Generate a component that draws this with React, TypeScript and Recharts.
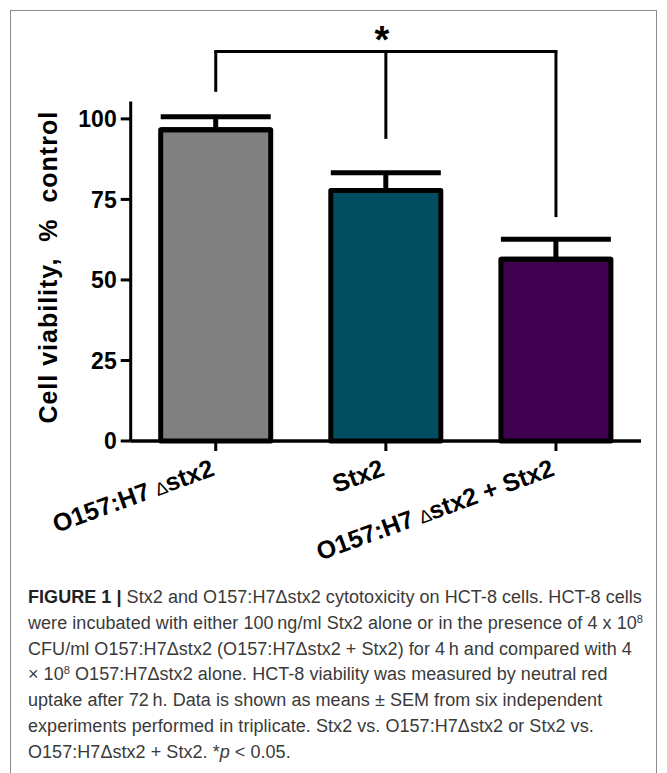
import React from 'react';
import {
  Bar,
  BarChart,
  Cell,
  ErrorBar,
  Label,
  ReferenceDot,
  ReferenceLine,
  XAxis,
  YAxis,
} from 'recharts';

const GROUPS = ['O157:H7 ∆stx2', 'Stx2', 'O157:H7 ∆stx2 + Stx2'];
const VIABILITY = [96.6, 77.8, 56.4];
const SEM = [4.1, 5.5, 6.2];
const BAR_COLORS = ['#808080', '#004e60', '#3e004f'];
const Y_TICKS = [0, 25, 50, 75, 100];
// significance bracket (in % control units)
const BRACKET_TOP = 120.9;
const BRACKET_ENDS = [108.4, 93.8, 69.5];

const DATA = GROUPS.map((group, i) => ({
  group,
  viability: VIABILITY[i],
  sem: [0, SEM[i]],
}));

const FONT = '"Liberation Sans", Arial, Helvetica, sans-serif';
const INK = '#000';

function GroupTick({ x, y, payload }: any): JSX.Element {
  const parts = String(payload.value).split('∆');
  const by = y + 22;
  return (
    <text
      x={x}
      y={by}
      textAnchor="end"
      transform={`rotate(-20 ${x} ${by})`}
      fontFamily={FONT}
      fontSize={25}
      fontWeight="bold"
      fill={INK}
    >
      {parts[0]}
      {parts.length > 1 && (
        <>
          <tspan fontWeight="normal" fontSize={18}>
            ∆
          </tspan>
          {parts[1]}
        </>
      )}
    </text>
  );
}

function YTitle({ viewBox }: any): JSX.Element {
  const cy = viewBox ? viewBox.y + viewBox.height / 2 - 4 : 267;
  return (
    <text
      x={0}
      y={0}
      transform={`translate(57 ${cy}) rotate(-90)`}
      textAnchor="middle"
      fontFamily={FONT}
      fontSize={25}
      fontWeight="bold"
      letterSpacing={1}
      fill={INK}
      style={{ whiteSpace: 'pre' }}
    >
      {'Cell viability,  %  control'}
    </text>
  );
}

function Star({ viewBox }: any): JSX.Element | null {
  if (!viewBox) return null;
  return (
    <text
      x={viewBox.x + viewBox.width / 2 - 4}
      y={viewBox.y + 1.5}
      textAnchor="middle"
      fontFamily={FONT}
      fontSize={38}
      fontWeight="bold"
      fill={INK}
    >
      *
    </text>
  );
}

const sup = { fontSize: '0.62em', verticalAlign: '0.55em', lineHeight: 0 } as const;

const CAPTION_LINES = [
  <>
    <b style={{ color: '#222' }}>FIGURE 1 |</b> Stx2 and O157:H7Δstx2 cytotoxicity on HCT-8 cells. HCT-8 cells
  </>,
  <>
    were incubated with either 100{'\u2009'}ng/ml Stx2 alone or in the presence of 4 x 10<span style={sup}>8</span>
  </>,
  <>CFU/ml O157:H7Δstx2 (O157:H7Δstx2 + Stx2) for 4{'\u2009'}h and compared with 4</>,
  <>
    × 10<span style={sup}>8</span> O157:H7Δstx2 alone. HCT-8 viability was measured by neutral red
  </>,
  <>uptake after 72{'\u2009'}h. Data is shown as means ± SEM from six independent</>,
  <>experiments performed in triplicate. Stx2 vs. O157:H7Δstx2 or Stx2 vs.</>,
  <>
    O157:H7Δstx2 + Stx2. *<i>p</i> &lt; 0.05.
  </>,
];

export default function App(): JSX.Element {
  return (
    <div
      style={{
        position: 'fixed',
        left: 0,
        top: 0,
        width: 667,
        height: 773,
        background: '#fff',
        overflow: 'hidden',
      }}
    >
      <div
        style={{
          position: 'absolute',
          left: 10,
          top: 10,
          width: 645,
          height: 800,
          border: '1px solid #8a8a8a',
        }}
      />
      <div style={{ position: 'absolute', left: 0, top: 0 }}>
        <BarChart
          width={667}
          height={590}
          data={DATA}
          margin={{ top: 101.5, right: 26, bottom: 89, left: 50.7 }}
          barCategoryGap={0}
        >
          <XAxis
            dataKey="group"
            interval={0}
            height={60}
            tickSize={10}
            tickMargin={2}
            axisLine={{ stroke: INK, strokeWidth: 3.5 }}
            tickLine={{ stroke: INK, strokeWidth: 3 }}
            tick={<GroupTick />}
          />
          <YAxis
            width={80}
            domain={[0, 105.4]}
            ticks={Y_TICKS}
            tickSize={10}
            tickMargin={4}
            axisLine={{ stroke: INK, strokeWidth: 3 }}
            tickLine={{ stroke: INK, strokeWidth: 3 }}
            tick={{ fill: INK, fontSize: 23, fontWeight: 'bold', fontFamily: FONT }}
          >
            <Label content={<YTitle />} />
          </YAxis>
          <Bar
            dataKey="viability"
            barSize={110}
            stroke={INK}
            strokeWidth={5}
            strokeLinejoin="round"
            isAnimationActive={false}
          >
            {DATA.map((d, i) => (
              <Cell key={d.group} fill={BAR_COLORS[i]} />
            ))}
            <ErrorBar
              dataKey="sem"
              direction="y"
              width={55}
              stroke={INK}
              strokeWidth={5}
              isAnimationActive={false}
            />
          </Bar>
          <ReferenceLine
            segment={[
              { x: GROUPS[0], y: BRACKET_TOP },
              { x: GROUPS[2], y: BRACKET_TOP },
            ]}
            stroke={INK}
            strokeWidth={3}
            strokeLinecap="square"
            ifOverflow="visible"
          />
          {GROUPS.map((g, i) => (
            <ReferenceLine
              key={g}
              segment={[
                { x: g, y: BRACKET_TOP },
                { x: g, y: BRACKET_ENDS[i] },
              ]}
              stroke={INK}
              strokeWidth={3}
              ifOverflow="visible"
            />
          ))}
          <ReferenceDot
            x={GROUPS[1]}
            y={BRACKET_TOP}
            r={0}
            fill="none"
            stroke="none"
            ifOverflow="visible"
            label={<Star />}
          />
        </BarChart>
      </div>
      <div
        style={{
          position: 'absolute',
          left: 28,
          top: 585,
          fontFamily: FONT,
          fontSize: 18,
          letterSpacing: 0.05,
          color: '#3a3a3a',
          whiteSpace: 'nowrap',
        }}
      >
        {CAPTION_LINES.map((line, i) => (
          <div key={i} style={{ height: 25.8, lineHeight: '25.8px' }}>
            {line}
          </div>
        ))}
      </div>
    </div>
  );
}
